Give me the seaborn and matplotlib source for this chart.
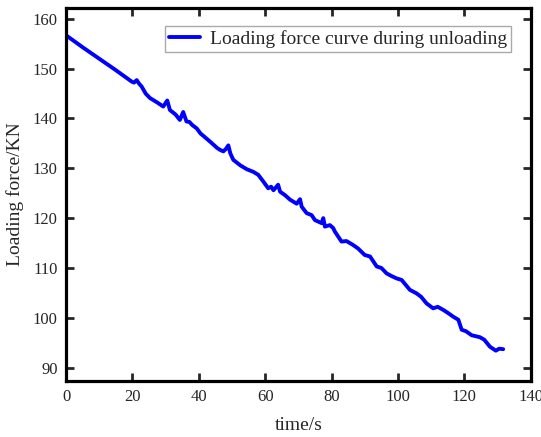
"""
Loading force curve during unloading
"""

import pandas as pd
import seaborn as sns
import matplotlib.pyplot as plt

# values
time_s = [0.0, 5.0, 10.0, 15.0, 19.8, 20.5, 21.3, 22.0, 22.8, 24.0, 25.3, 27.5,
          29.3, 30.5, 31.3, 33.0, 34.3, 35.3, 36.3, 37.2, 38.0, 39.4, 40.5, 41.4,
          43.5, 45.5, 46.4, 47.4, 48.2, 48.9, 49.5, 50.4, 52.5, 54.5, 56.4, 57.9,
          59.5, 60.9, 61.8, 62.5, 63.9, 64.5, 66.0, 67.5, 69.5, 70.5, 71.0, 72.5,
          74.0, 75.0, 77.0, 77.5, 78.0, 79.5, 80.5, 81.0, 83.0, 84.5, 86.5, 88.0,
          90.0, 91.6, 93.6, 95.0, 96.6, 98.0, 99.6, 101.1, 103.6, 105.6, 107.0,
          108.6, 110.6, 112.0, 113.6, 115.0, 116.7, 118.2, 119.2, 120.5, 122.2,
          124.7, 126.0, 127.7, 129.5, 130.5, 131.7]
force_kn = [156.7, 154.3, 152.0, 149.7, 147.4, 147.2, 147.7, 147.0, 146.4, 145.0,
            144.1, 143.2, 142.4, 143.6, 141.7, 140.8, 139.7, 141.3, 139.4, 139.3,
            138.7, 138.0, 137.0, 136.5, 135.3, 134.1, 133.7, 133.4, 133.9, 134.6,
            133.0, 131.7, 130.6, 129.8, 129.3, 128.7, 127.3, 126.0, 126.3, 125.6,
            126.7, 125.3, 124.6, 123.7, 122.9, 123.8, 122.3, 121.0, 120.6, 119.6,
            119.0, 120.0, 118.3, 118.6, 118.0, 117.3, 115.3, 115.4, 114.6, 113.9,
            112.6, 112.3, 110.3, 110.0, 108.9, 108.4, 107.9, 107.6, 105.6, 104.9,
            104.2, 102.9, 101.9, 102.2, 101.6, 101.0, 100.2, 99.6, 97.6, 97.3,
            96.5, 96.1, 95.6, 94.2, 93.4, 93.8, 93.7]

df = pd.DataFrame({"time/s": time_s, "Loading force/KN": force_kn})

sns.set_style("ticks")
plt.rcParams["font.family"] = ["Liberation Serif", "DejaVu Serif"]

fig = plt.figure(figsize=(5.41, 4.37), dpi=100)
ax = fig.add_axes([0.122, 0.128, 0.859, 0.854])

sns.lineplot(data=df, x="time/s", y="Loading force/KN", color="#0000ff",
             linewidth=2.8, label="Loading force curve during unloading", ax=ax)

ax.set_xlim(0, 140)
ax.set_ylim(87.3, 162.2)
ax.set_xticks(range(0, 141, 20))
ax.set_yticks(range(90, 161, 10))
ax.tick_params(direction="in", length=5.5, width=2, labelsize=12,
               top=True, right=True, labeltop=False, labelright=False, pad=6)
for spine in ax.spines.values():
    spine.set_linewidth(2.3)
    spine.set_color("black")
ax.set_xlabel("time/s", fontsize=14, labelpad=8)
ax.set_ylabel("Loading force/KN", fontsize=14, labelpad=6)

leg = ax.legend(loc="upper right", bbox_to_anchor=(0.958, 0.952), fontsize=14,
                fancybox=False, handlelength=1.6, borderpad=0.22,
                handletextpad=0.5, borderaxespad=0, framealpha=1)
leg.get_frame().set_edgecolor("#aaaaaa")
leg.get_frame().set_linewidth(1)

plt.savefig("out.png", dpi=100)
